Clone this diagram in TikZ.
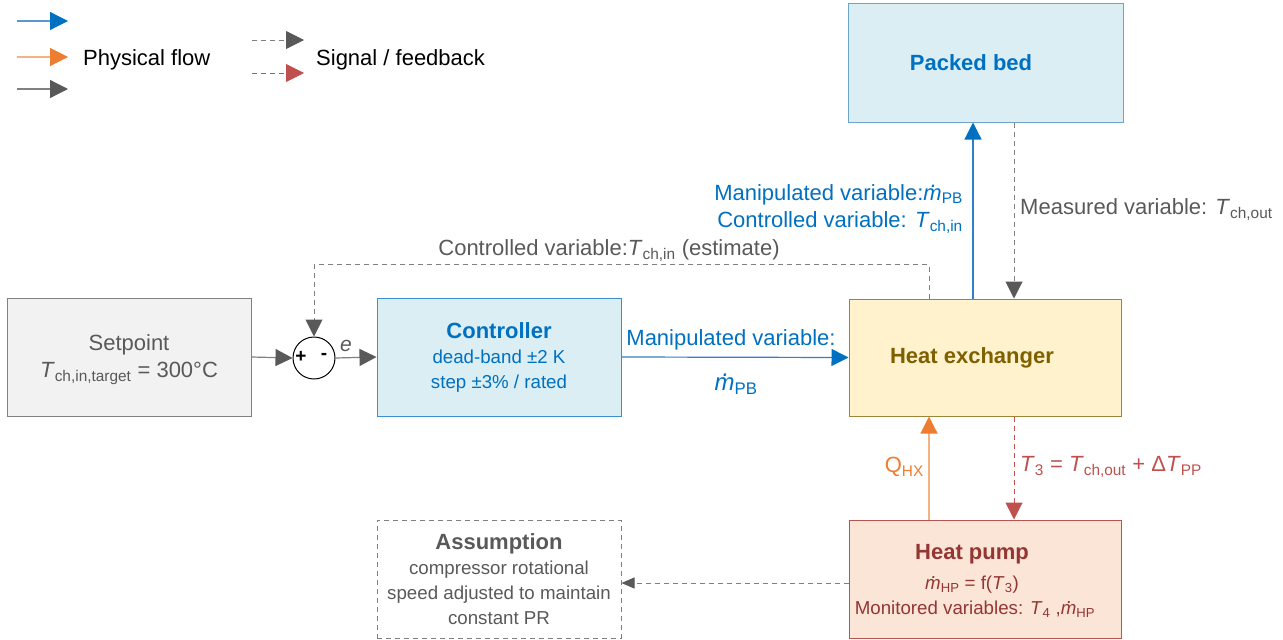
\documentclass[tikz,border=0pt]{standalone}
\usepackage{fontspec}
\setmainfont{Liberation Sans}
\usetikzlibrary{arrows.meta,calc}

\definecolor{cblue}{HTML}{0070C0}
\definecolor{cblueline}{HTML}{2F80C8}
\definecolor{corange}{HTML}{ED7D31}
\definecolor{corangeline}{HTML}{F4B183}
\definecolor{cgray}{HTML}{595959}
\definecolor{cgrayline}{HTML}{808080}
\definecolor{cred}{HTML}{C0504D}
\definecolor{cdred}{HTML}{943634}
\definecolor{colive}{HTML}{7F6000}
\definecolor{pbfill}{HTML}{DAEEF3}
\definecolor{pbdraw}{HTML}{6CA5C8}
\definecolor{ctdraw}{HTML}{3A8FD0}
\definecolor{hxfill}{HTML}{FFF2CC}
\definecolor{hxdraw}{HTML}{9C8636}
\definecolor{hpfill}{HTML}{FBE5D6}
\definecolor{hpdraw}{HTML}{B85450}
\definecolor{spfill}{HTML}{F2F2F2}
\definecolor{spdraw}{HTML}{808080}

% quantities
\newcommand\sub[1]{\textsubscript{#1}}
\newcommand\Tv{\textit{T}}
\newcommand\md{\textit{\rlap{\hspace{0.34em}\raisebox{0.6em}{.}}m}}
\newcommand\fbig{\fontsize{22}{26}\selectfont}
\newcommand\fsmall{\fontsize{18.7}{25}\selectfont}

\begin{document}
\begin{tikzpicture}[x=1pt,y=-1pt,
  box/.style={draw, line width=1pt, minimum width=244pt, minimum height=118pt,
    align=center, inner sep=0pt},
  boxtext/.style={align=center, inner sep=0pt},
  lbl/.style={inner sep=0pt, font=\fbig},
  tipA/.style={-{Triangle[length=17pt,width=17pt,color=#1]}},
  tipL/.style={-{Triangle[length=18pt,width=18pt,color=#1]}},
  flowline/.style={line width=1.2pt},
  sigline/.style={line width=1pt, dash pattern=on 5pt off 4pt},
]
\useasboundingbox (0,0) rectangle (1283,640);

% ---------- legend ----------
\coordinate (lb1) at (17,21);  \coordinate (lb2) at (68,21);
\coordinate (lo1) at (17,57);  \coordinate (lo2) at (68,57);
\coordinate (lg1) at (17,89);  \coordinate (lg2) at (68,89);
\coordinate (ls1) at (252,40); \coordinate (ls2) at (304,40);
\coordinate (lr1) at (252,73); \coordinate (lr2) at (304,73);
\draw[flowline, draw=cblueline!80, tipL=cblue] (lb1) -- (lb2);
\draw[flowline, draw=corangeline, tipL=corange] (lo1) -- (lo2);
\draw[flowline, draw=cgrayline, tipL=cgray] (lg1) -- (lg2);
\draw[sigline, draw=cgrayline, tipL=cgray] (ls1) -- (ls2);
\draw[sigline, draw=cred, tipL=cred] (lr1) -- (lr2);
\node[lbl, anchor=west] (lphys) at (83,60) {Physical flow};
\node[lbl, anchor=west] (lsig) at (316,60) {Signal / feedback};

% ---------- blocks ----------
\node[box, fill=pbfill, draw=pbdraw, minimum width=275pt, minimum height=119pt] (pb) at (986,62.5) {};
\node[boxtext, text=cblue, font=\fbig\bfseries] (pbt) at ([xshift=-15pt]pb.center) {Packed bed};

\node[box, fill=hxfill, draw=hxdraw, minimum width=272pt, minimum height=117pt] (hx) at (985,357.5) {};
\node[boxtext, text=colive, font=\fbig\bfseries] (hxt) at ([xshift=-13pt]hx.center) {Heat exchanger};

\node[box, fill=hpfill, draw=hpdraw, minimum width=272pt, minimum height=118pt] (hp) at (985,579) {};
\node[boxtext, text=cdred, font=\fsmall] (hpt) at ([xshift=-13pt,yshift=-2pt]hp.center)
  {{\fbig\bfseries Heat pump}\\[5pt]
   \md\sub{HP} = f(\Tv\sub{3})\\
   \hspace*{6pt}Monitored variables: \Tv\sub{4} ,\md\sub{HP}};

\node[box, fill=pbfill, draw=ctdraw, text=cblue, font=\fsmall] (ctrl) at (499,357)
  {{\fbig\bfseries Controller}\\
   dead-band ±2 K\\
   step ±3\% / rated};
\node[box, fill=spfill, draw=spdraw, minimum height=118pt] (sp) at (129,357) {};
\node[boxtext, text=cgray, font=\fontsize{22}{27}\selectfont] (spt) at ([yshift=-3pt]sp.center)
  {Setpoint\\
   \Tv\sub{ch,in,target} = 300°C};
\node[box, draw=cgrayline, line width=1pt, dash pattern=on 5pt off 4pt, text=cgray, font=\fsmall] (asm) at (499,579)
  {{\fbig\bfseries Assumption}\\
   compressor rotational\\
   speed adjusted to maintain\\
   constant PR};

% summing junction
\node[circle, draw=black, fill=white, line width=1pt, minimum size=42pt, inner sep=0pt] (sum) at (314,358) {};
\node[font=\fontsize{19}{20}\selectfont\bfseries, inner sep=0pt] (plus) at (301,357) {+};
\node[font=\fontsize{19}{20}\selectfont\bfseries, inner sep=0pt] (minus) at (324,356) {-};

% ---------- connectors ----------
\draw[flowline, draw=cgrayline, tipA=cgray] (sp.east) -- (sum.west);
\draw[flowline, draw=cgrayline, tipA=cgray] (sum.east) -- (ctrl.west);
\node[lbl, text=cgray, font=\fontsize{21}{24}\selectfont\itshape] (elbl) at (346,346) {e};

\draw[flowline, draw=cblueline, tipA=cblue] (ctrl.east) -- (hx.west);
\node[lbl, text=cblue] (mv1) at (731,340) {Manipulated variable:};
\node[lbl, text=cblue, font=\fontsize{24}{26}\selectfont] (mv2) at (736,384) {\md\sub{PB}};

% heat exchanger <-> packed bed
\draw[flowline, draw=cblueline, tipA=cblue] ([xshift=-12pt]hx.north) -- ([xshift=-12pt]hx.north |- pb.south);
\node[lbl, text=cblue, anchor=east, align=right] (mvpb) at (963,209)
  {Manipulated variable:\md\sub{PB}\\[1pt] Controlled variable: \Tv\sub{ch,in}};
\draw[sigline, draw=cgrayline, tipA=cgray] ([xshift=29pt]hx.north |- pb.south) -- ([xshift=29pt]hx.north);
\node[lbl, text=cgray, anchor=west] (meas) at (1020,210) {Measured variable: \Tv\sub{ch,out}};

% estimated controlled variable back to the junction
\draw[sigline, draw=cgrayline, tipA=cgray] ([xshift=-56pt]hx.north) -- ++(0,-34) -| (sum.north);
\node[lbl, text=cgray] (est) at (609,251) {Controlled variable:\Tv\sub{ch,in} (estimate)};

% heat pump <-> heat exchanger
\draw[flowline, draw=corangeline, tipA=corange] ([xshift=-56pt]hp.north) -- ([xshift=-56pt]hp.north |- hx.south);
\node[lbl, text=corange, anchor=east] (qhx) at (924,467) {Q\sub{HX}};
\draw[sigline, draw=cred, tipA=cred] ([xshift=29pt]hp.north |- hx.south) -- ([xshift=29pt]hp.north);
\node[lbl, text=cred, anchor=west] (t3) at (1020,467)
  {\Tv\sub{3} = \Tv\sub{ch,out} + Δ\Tv\sub{PP}};

% heat pump -> assumption
\draw[sigline, draw=cgrayline, -{Triangle[length=13pt,width=11pt,color=cgray]}] ([yshift=-4pt]hp.west) -- ([yshift=-4pt]asm.east);
\end{tikzpicture}
\end{document}
